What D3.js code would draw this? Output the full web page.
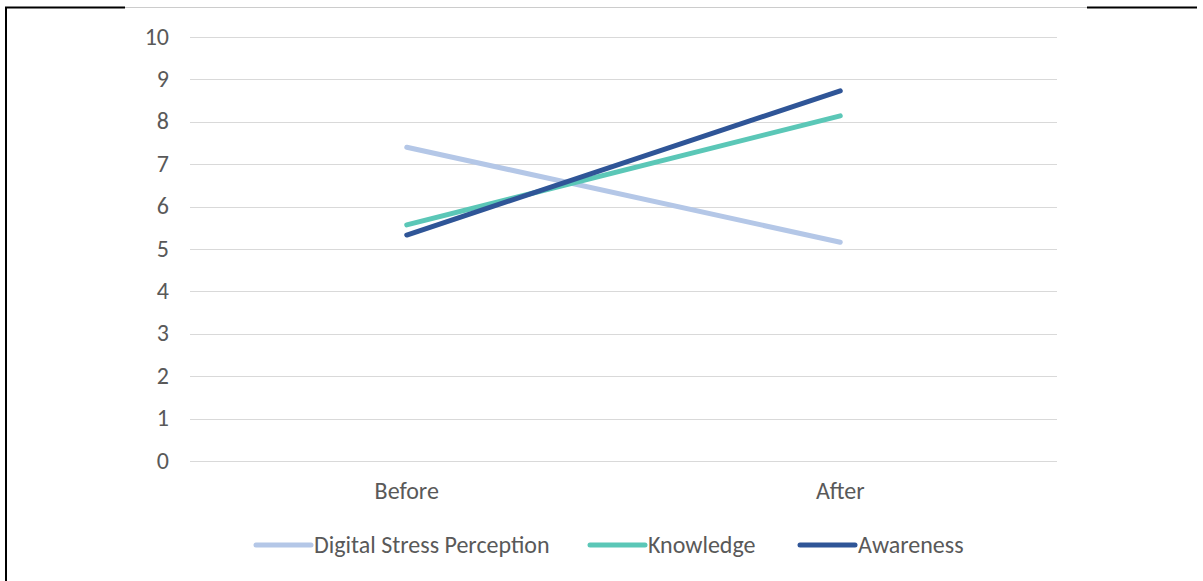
<!DOCTYPE html>
<html>
<head>
<meta charset="utf-8">
<script src="https://cdn.jsdelivr.net/npm/d3@7"></script>
<style>
  body { margin: 0; background: #fff; }
  svg text { font-family: Calibri, Carlito, "Open Sans", sans-serif; fill: #595959; }
</style>
</head>
<body>
<svg id="chart" width="1203" height="581"></svg>
<script>
// chart data
var categories = ["Before", "After"];
var seriesNames = ["Digital Stress Perception", "Knowledge", "Awareness"];
var seriesColors = ["#b4c7e7", "#5bc7b7", "#2f5597"];
var dspValues = [7.4, 5.16];
var knowledgeValues = [5.57, 8.14];
var awarenessValues = [5.33, 8.73];
var yTicks = [0, 1, 2, 3, 4, 5, 6, 7, 8, 9, 10];

var svg = d3.select("#chart");

// frame lines
svg.append("line").attr("x1", 5).attr("x2", 125).attr("y1", 7.5).attr("y2", 7.5)
    .attr("stroke", "#000").attr("stroke-width", 2);
svg.append("line").attr("x1", 125).attr("x2", 1087).attr("y1", 7.5).attr("y2", 7.5)
    .attr("stroke", "#000").attr("stroke-width", 0.5).attr("stroke-opacity", 0.4);
svg.append("line").attr("x1", 1087).attr("x2", 1197).attr("y1", 7.5).attr("y2", 7.5)
    .attr("stroke", "#000").attr("stroke-width", 2);
svg.append("line").attr("x1", 6).attr("x2", 6).attr("y1", 7).attr("y2", 581)
    .attr("stroke", "#000").attr("stroke-width", 2);

var x = d3.scaleBand().domain(categories).range([190, 1057]);
var y = d3.scaleLinear().domain([0, 10]).range([461, 37]);

// gridlines
svg.append("g").selectAll("line")
    .data(yTicks)
    .enter().append("line")
    .attr("x1", 190).attr("x2", 1057)
    .attr("y1", function(d) { return Math.round(y(d)) + 0.5; })
    .attr("y2", function(d) { return Math.round(y(d)) + 0.5; })
    .attr("stroke", "#d9d9d9").attr("stroke-width", 1);

// y tick labels
svg.append("g").selectAll("text")
    .data(yTicks)
    .enter().append("text")
    .attr("x", 169)
    .attr("y", function(d) { return y(d); })
    .attr("dy", "0.32em")
    .attr("text-anchor", "end")
    .attr("font-size", 24)
    .text(function(d) { return d; });

// category labels
svg.append("g").selectAll("text")
    .data(categories)
    .enter().append("text")
    .attr("x", function(d) { return x(d) + x.bandwidth() / 2; })
    .attr("y", 491)
    .attr("dy", "0.32em")
    .attr("text-anchor", "middle")
    .attr("font-size", 24)
    .text(function(d) { return d; });

var allSeries = [dspValues, knowledgeValues, awarenessValues];
var line = d3.line()
    .x(function(d, i) { return x(categories[i]) + x.bandwidth() / 2; })
    .y(function(d) { return y(d); });

svg.append("g").selectAll("path")
    .data(allSeries)
    .enter().append("path")
    .attr("d", line)
    .attr("fill", "none")
    .attr("stroke", function(d, i) { return seriesColors[i]; })
    .attr("stroke-width", 5)
    .attr("stroke-linecap", "round");

// legend
var legendX = [256, 590, 800];
var legend = svg.append("g").selectAll("g")
    .data(seriesNames)
    .enter().append("g")
    .attr("transform", function(d, i) { return "translate(" + legendX[i] + ",545)"; });
legend.append("line")
    .attr("x1", 0).attr("x2", 55).attr("y1", 0).attr("y2", 0)
    .attr("stroke", function(d, i) { return seriesColors[i]; })
    .attr("stroke-width", 5)
    .attr("stroke-linecap", "round");
legend.append("text")
    .attr("x", 58)
    .attr("dy", "0.32em")
    .attr("font-size", 24)
    .text(function(d) { return d; });
</script>
</body>
</html>
